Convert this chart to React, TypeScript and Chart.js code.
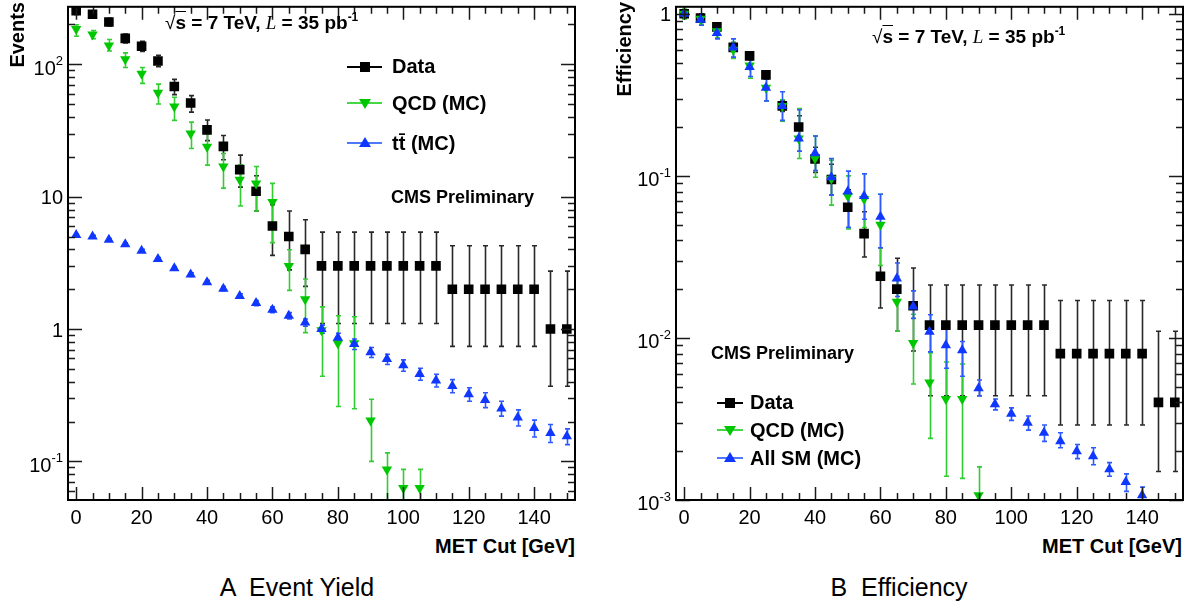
import React, { useEffect, useRef } from 'react';
import { Chart, registerables } from 'chart.js';

Chart.register(...registerables);

// ---------- data ----------
const metCut = [0, 5, 10, 15, 20, 25, 30, 35, 40, 45, 50, 55, 60, 65, 70, 75, 80, 85, 90, 95, 100, 105, 110, 115, 120, 125, 130, 135, 140, 145, 150];
const xMajorTicks = [0, 20, 40, 60, 80, 100, 120, 140];

// Panel A: event yield
const yieldData = [254, 239, 209, 157, 137, 106, 68, 51, 32, 24, 16, 11, 6, 5, 4, 3, 3, 3, 3, 3, 3, 3, 3, 2, 2, 2, 2, 2, 2, 1, 1];
const yieldDataLo = [238, 224, 195, 145, 125, 96, 59, 43.5, 26.5, 19, 11.8, 7.8, 3.6, 2.8, 2.1, 1.1, 1.1, 1.1, 1.1, 1.1, 1.1, 1.1, 1.1, 0.74, 0.74, 0.74, 0.74, 0.74, 0.74, 0.37, 0.37];
const yieldDataHi = [270, 254, 223, 169, 149, 117, 77, 58, 38, 29, 20.6, 14.4, 8.7, 7.8, 6.7, 5.4, 5.4, 5.4, 5.4, 5.4, 5.4, 5.4, 5.4, 4.26, 4.26, 4.26, 4.26, 4.26, 4.26, 2.74, 2.74];

const yieldQcd = [185, 168, 139, 109, 85, 61, 48, 30, 23.8, 16.9, 13.4, 12.6, 9.1, 3.0, 1.68, 0.98, 0.78, 0.78, 0.204, 0.087, 0.063, 0.063, null, null, null, null, null, null, null, null, null];
const yieldQcdLo = [163, 156, 126, 94.5, 71.8, 50.2, 37.7, 23.1, 17.3, 11.6, 8.5, 7.8, 4.5, 1.96, 0.94, 0.44, 0.26, 0.25, 0.10, 0.03, 0.03, 0.03, null, null, null, null, null, null, null, null, null];
const yieldQcdHi = [199, 180, 154, 122, 94.5, 70.8, 56.4, 36.6, 29.9, 21.2, 17.3, 16.9, 12.6, 3.97, 2.39, 1.47, 1.26, 1.24, 0.295, 0.116, 0.087, 0.087, null, null, null, null, null, null, null, null, null];

const yieldTt = [5.14, 5.0, 4.72, 4.38, 3.91, 3.38, 2.88, 2.58, 2.26, 2.02, 1.78, 1.57, 1.40, 1.26, 1.12, 1.0, 0.86, 0.77, 0.667, 0.593, 0.532, 0.458, 0.409, 0.371, 0.321, 0.291, 0.251, 0.215, 0.179, 0.164, 0.155];
const yieldTtLo = [5.05, 4.9, 4.62, 4.28, 3.81, 3.29, 2.8, 2.5, 2.19, 1.95, 1.71, 1.5, 1.33, 1.19, 1.05, 0.93, 0.79, 0.70, 0.61, 0.54, 0.48, 0.41, 0.365, 0.33, 0.285, 0.255, 0.22, 0.185, 0.153, 0.139, 0.134];
const yieldTtHi = [5.23, 5.1, 4.82, 4.48, 4.01, 3.47, 2.96, 2.66, 2.33, 2.09, 1.85, 1.64, 1.47, 1.33, 1.19, 1.07, 0.93, 0.84, 0.725, 0.645, 0.585, 0.505, 0.455, 0.415, 0.36, 0.33, 0.285, 0.245, 0.205, 0.19, 0.176];

// Panel B: efficiency
const effData = [1.0, 0.94, 0.83, 0.62, 0.55, 0.42, 0.27, 0.20, 0.127, 0.095, 0.064, 0.044, 0.024, 0.020, 0.0158, 0.012, 0.012, 0.012, 0.012, 0.012, 0.012, 0.012, 0.012, 0.008, 0.008, 0.008, 0.008, 0.008, 0.008, 0.004, 0.004];
const effDataLo = [0.97, 0.91, 0.80, 0.59, 0.52, 0.395, 0.25, 0.175, 0.105, 0.076, 0.048, 0.0316, 0.0153, 0.011, 0.0083, 0.0044, 0.0044, 0.0044, 0.0044, 0.0044, 0.0044, 0.0044, 0.0044, 0.0029, 0.0029, 0.0029, 0.0029, 0.0029, 0.0029, 0.0015, 0.0015];
const effDataHi = [1.03, 0.97, 0.86, 0.65, 0.58, 0.445, 0.29, 0.235, 0.15, 0.118, 0.082, 0.060, 0.036, 0.031, 0.027, 0.0212, 0.0212, 0.0212, 0.0212, 0.0212, 0.0212, 0.0212, 0.0212, 0.017, 0.017, 0.017, 0.017, 0.017, 0.017, 0.011, 0.011];

const effQcd = [1.0, 0.93, 0.78, 0.6, 0.48, 0.35, 0.27, 0.17, 0.128, 0.096, 0.075, 0.072, 0.050, 0.0167, 0.0093, 0.0053, 0.0042, 0.0042, 0.00107, null, null, null, null, null, null, null, null, null, null, null, null];
const effQcdLo = [0.93, 0.86, 0.71, 0.53, 0.40, 0.29, 0.217, 0.128, 0.098, 0.066, 0.047, 0.048, 0.028, 0.011, 0.0052, 0.0024, 0.0014, 0.00136, 0.0005, null, null, null, null, null, null, null, null, null, null, null, null];
const effQcdHi = [1.07, 1.0, 0.85, 0.67, 0.58, 0.40, 0.295, 0.26, 0.176, 0.125, 0.10, 0.103, 0.077, 0.024, 0.014, 0.0081, 0.0071, 0.0069, 0.0016, null, null, null, null, null, null, null, null, null, null, null, null];

const effSm = [1.0, 0.92, 0.76, 0.62, 0.47, 0.35, 0.27, 0.17, 0.138, 0.098, 0.080, 0.075, 0.056, 0.0233, 0.0156, 0.0109, 0.0090, 0.0084, 0.0049, 0.0039, 0.0034, 0.0030, 0.0026, 0.0023, 0.0020, 0.00186, 0.00155, 0.00129, 0.00107, null, null];
const effSmLo = [0.95, 0.85, 0.70, 0.54, 0.41, 0.29, 0.22, 0.142, 0.108, 0.076, 0.048, 0.054, 0.036, 0.018, 0.0132, 0.0082, 0.0065, 0.0058, 0.0044, 0.0036, 0.0031, 0.0027, 0.0023, 0.0021, 0.0018, 0.00165, 0.0014, 0.00113, 0.00095, null, null];
const effSmHi = [1.05, 1.0, 0.87, 0.70, 0.54, 0.41, 0.33, 0.256, 0.176, 0.128, 0.107, 0.103, 0.077, 0.029, 0.0195, 0.0139, 0.012, 0.0095, 0.0055, 0.0042, 0.0037, 0.0033, 0.0029, 0.0026, 0.0022, 0.0021, 0.0017, 0.00145, 0.0012, null, null];

// ---------- styling ----------
const FONT = '"Liberation Sans", Arial, Helvetica, sans-serif';
const BLACK = '#000000';
const GREEN = 'rgb(0,200,0)';
const BLUE = 'rgb(15,55,255)';
const ERR_BLACK = 'rgb(40,40,40)';
const ERR_GREEN = 'rgb(50,205,50)';
const ERR_BLUE = 'rgb(45,90,255)';

type Num = number | null;
type SeriesCfg = {
  label: string;
  values: Num[];
  lo: Num[];
  hi: Num[];
  color: string;
  errColor: string;
  shape: 'rect' | 'triangle';
  rotation: number;
  radius: number;
  order: number;
};

function decadesIn(min: number, max: number): number[] {
  const out: number[] = [];
  for (let e = Math.ceil(Math.log10(min) - 1e-9); e <= Math.floor(Math.log10(max) + 1e-9); e++) out.push(e);
  return out;
}

function drawLogLabel(ctx: CanvasRenderingContext2D, exp: number, right: number, yc: number) {
  const base = exp === 0 ? '1' : '10';
  const sup = exp === 0 || exp === 1 ? '' : String(exp);
  ctx.fillStyle = '#000';
  ctx.textAlign = 'left';
  ctx.textBaseline = 'alphabetic';
  ctx.font = `20px ${FONT}`;
  const wb = ctx.measureText(base).width;
  ctx.font = `13px ${FONT}`;
  const ws = sup ? ctx.measureText(sup).width : 0;
  const x0 = right - wb - ws;
  ctx.font = `20px ${FONT}`;
  if (sup) {
    ctx.fillText(base, x0, yc + 10.2);
    ctx.font = `13px ${FONT}`;
    ctx.fillText(sup, x0 + wb, yc + 1);
  } else {
    ctx.fillText(base, x0, yc + 7.6);
  }
}

function buildChart(
  canvas: HTMLCanvasElement,
  series: SeriesCfg[],
  yMin: number,
  yMax: number,
  yAxisWidth: number,
  padRight: number
) {
  const plugin = {
    id: 'rootStyle',
    beforeDatasetsDraw(chart: any) {
      const { ctx, chartArea: a } = chart;
      const x = chart.scales.x;
      const y = chart.scales.y;
      ctx.save();
      ctx.beginPath();
      ctx.rect(a.left, a.top, a.right - a.left, a.bottom - a.top);
      ctx.clip();
      ctx.lineWidth = 1.6;
      series.forEach((s) => {
        ctx.strokeStyle = s.errColor;
        metCut.forEach((m, i) => {
          const v = s.values[i];
          const lo = s.lo[i];
          const hi = s.hi[i];
          if (v == null || lo == null || hi == null) return;
          const px = Math.round(x.getPixelForValue(m)) + 0.5;
          const y1 = y.getPixelForValue(hi);
          const y2 = y.getPixelForValue(lo);
          ctx.beginPath();
          ctx.moveTo(px, y1);
          ctx.lineTo(px, y2);
          ctx.moveTo(px - 2.5, y1);
          ctx.lineTo(px + 2.5, y1);
          ctx.moveTo(px - 2.5, y2);
          ctx.lineTo(px + 2.5, y2);
          ctx.stroke();
        });
      });
      ctx.restore();
    },
    afterDatasetsDraw(chart: any) {
      const { ctx, chartArea: a } = chart;
      const x = chart.scales.x;
      const y = chart.scales.y;
      ctx.save();
      // ticks
      ctx.strokeStyle = '#1a1a1a';
      ctx.lineWidth = 1.5;
      ctx.beginPath();
      for (let v = 0; v <= 150; v += 5) {
        const px = Math.round(x.getPixelForValue(v)) + 0.5;
        const len = v % 20 === 0 ? 13 : 7;
        ctx.moveTo(px, a.bottom);
        ctx.lineTo(px, a.bottom - len);
        ctx.moveTo(px, a.top);
        ctx.lineTo(px, a.top + len);
      }
      const e0 = Math.floor(Math.log10(yMin));
      const e1 = Math.ceil(Math.log10(yMax));
      for (let e = e0; e <= e1; e++) {
        for (let k = 1; k <= 9; k++) {
          const v = k * Math.pow(10, e);
          if (v < yMin || v > yMax) continue;
          const py = Math.round(y.getPixelForValue(v)) + 0.5;
          const len = k === 1 ? 14 : 7;
          ctx.moveTo(a.left, py);
          ctx.lineTo(a.left + len, py);
          ctx.moveTo(a.right, py);
          ctx.lineTo(a.right - len, py);
        }
      }
      ctx.stroke();
      // frame
      ctx.strokeStyle = '#000';
      ctx.lineWidth = 2;
      ctx.strokeRect(a.left, a.top, a.right - a.left, a.bottom - a.top);
      // y labels
      decadesIn(yMin, yMax).forEach((e) => {
        drawLogLabel(ctx, e, a.left - 5, y.getPixelForValue(Math.pow(10, e)));
      });
      ctx.restore();
    },
  };

  return new Chart(canvas, {
    type: 'scatter',
    data: {
      datasets: series.map((s) => ({
        label: s.label,
        data: metCut.map((m, i) => ({ x: m, y: s.values[i] as any })),
        showLine: false,
        pointStyle: s.shape,
        pointRotation: s.rotation,
        pointRadius: s.radius,
        pointHoverRadius: s.radius,
        pointBackgroundColor: s.color,
        pointBorderColor: s.color,
        pointBorderWidth: 0,
        order: s.order,
      })),
    },
    options: {
      responsive: false,
      animation: false,
      devicePixelRatio: 1,
      events: [],
      layout: { padding: { top: 2, right: padRight, left: 0, bottom: 0 } },
      plugins: { legend: { display: false }, tooltip: { enabled: false } },
      scales: {
        x: {
          type: 'linear',
          min: -2.5,
          max: 152.5,
          grid: { display: false, drawTicks: false },
          border: { display: false },
          ticks: {
            font: { family: FONT, size: 20 },
            color: '#000',
            padding: 6,
            autoSkip: false,
            maxRotation: 0,
            callback: (v: any) => String(v),
          },
          afterBuildTicks: (sc: any) => {
            sc.ticks = xMajorTicks.map((v) => ({ value: v }));
          },
          afterFit: (sc: any) => {
            sc.height = 30;
          },
        },
        y: {
          type: 'logarithmic',
          min: yMin,
          max: yMax,
          grid: { display: false, drawTicks: false },
          border: { display: false },
          ticks: { display: false },
          afterBuildTicks: (sc: any) => {
            sc.ticks = decadesIn(yMin, yMax).map((e) => ({ value: Math.pow(10, e) }));
          },
          afterFit: (sc: any) => {
            sc.width = yAxisWidth;
          },
        },
      },
    } as any,
    plugins: [plugin],
  });
}

// ---------- HTML helpers ----------
const abs = (s: React.CSSProperties): React.CSSProperties => ({ position: 'absolute', whiteSpace: 'pre', ...s });

function Marker({ shape, color, cx, cy }: { shape: 'square' | 'up' | 'down'; color: string; cx: number; cy: number }) {
  if (shape === 'square') {
    return <div style={abs({ left: cx - 5, top: cy - 5, width: 10, height: 10, background: color })} />;
  }
  if (shape === 'up') {
    return (
      <div
        style={abs({
          left: cx - 6,
          top: cy - 6,
          width: 0,
          height: 0,
          borderLeft: '6px solid transparent',
          borderRight: '6px solid transparent',
          borderBottom: `10px solid ${color}`,
        })}
      />
    );
  }
  return (
    <div
      style={abs({
        left: cx - 6,
        top: cy - 4,
        width: 0,
        height: 0,
        borderLeft: '6px solid transparent',
        borderRight: '6px solid transparent',
        borderTop: `10px solid ${color}`,
      })}
    />
  );
}

function LegendRow(props: {
  x1: number;
  x2: number;
  cy: number;
  lineColor: string;
  markColor: string;
  shape: 'square' | 'up' | 'down';
  textLeft: number;
  children: React.ReactNode;
}) {
  const { x1, x2, cy, lineColor, markColor, shape, textLeft, children } = props;
  return (
    <>
      <div style={abs({ left: x1, top: cy - 1, width: x2 - x1, height: 2, background: lineColor })} />
      <Marker shape={shape} color={markColor} cx={(x1 + x2) / 2} cy={cy} />
      <div style={abs({ left: textLeft, top: cy - 10.5, fontSize: 20, lineHeight: '20px', fontWeight: 700 })}>{children}</div>
    </>
  );
}

function EnergyLabel({ left, top }: { left: number; top: number }) {
  return (
    <div style={abs({ left, top, fontSize: 19, lineHeight: '19px', fontWeight: 700 })}>
      <span style={{ fontWeight: 400 }}>√</span>
      <span style={{ textDecoration: 'overline' }}>s</span>
      {' = 7 TeV, '}
      <span style={{ fontFamily: '"Liberation Serif", "Times New Roman", serif', fontStyle: 'italic', fontWeight: 400 }}>L</span>
      {' = 35 pb'}
      <span style={{ fontSize: 12, position: 'relative', top: -8 }}>-1</span>
    </div>
  );
}

function RotTitle({ left, text }: { left: number; text: string }) {
  return (
    <div
      style={abs({
        left,
        top: 202,
        width: 200,
        height: 20,
        fontSize: 20,
        lineHeight: '20px',
        fontWeight: 700,
        textAlign: 'right',
        transformOrigin: '0 0',
        transform: 'rotate(-90deg)',
      })}
    >
      {text}
    </div>
  );
}

export default function App() {
  const leftRef = useRef<HTMLCanvasElement | null>(null);
  const rightRef = useRef<HTMLCanvasElement | null>(null);

  useEffect(() => {
    const seriesA: SeriesCfg[] = [
      { label: 'Data', values: yieldData, lo: yieldDataLo, hi: yieldDataHi, color: BLACK, errColor: ERR_BLACK, shape: 'rect', rotation: 0, radius: 6.8, order: 3 },
      { label: 'QCD (MC)', values: yieldQcd, lo: yieldQcdLo, hi: yieldQcdHi, color: GREEN, errColor: ERR_GREEN, shape: 'triangle', rotation: 180, radius: 6, order: 2 },
      { label: 'tt̄ (MC)', values: yieldTt, lo: yieldTtLo, hi: yieldTtHi, color: BLUE, errColor: ERR_BLUE, shape: 'triangle', rotation: 0, radius: 6, order: 1 },
    ];
    const seriesB: SeriesCfg[] = [
      { label: 'Data', values: effData, lo: effDataLo, hi: effDataHi, color: BLACK, errColor: ERR_BLACK, shape: 'rect', rotation: 0, radius: 6.8, order: 3 },
      { label: 'QCD (MC)', values: effQcd, lo: effQcdLo, hi: effQcdHi, color: GREEN, errColor: ERR_GREEN, shape: 'triangle', rotation: 180, radius: 6, order: 2 },
      { label: 'All SM (MC)', values: effSm, lo: effSmLo, hi: effSmHi, color: BLUE, errColor: ERR_BLUE, shape: 'triangle', rotation: 0, radius: 6, order: 1 },
    ];
    const c1 = buildChart(leftRef.current!, seriesA, 0.0511, 272, 68, 21);
    const c2 = buildChart(rightRef.current!, seriesB, 0.001, 1.104, 76, 10);
    return () => {
      c1.destroy();
      c2.destroy();
    };
  }, []);

  return (
    <div style={{ position: 'fixed', left: 0, top: 0, width: 1193, height: 609, background: '#fff', fontFamily: FONT, color: '#000', overflow: 'hidden' }}>
      <canvas ref={leftRef} width={596} height={530} style={{ position: 'absolute', left: 0, top: 0 }} />
      <canvas ref={rightRef} width={593} height={530} style={{ position: 'absolute', left: 600, top: 0 }} />

      {/* Panel A annotations */}
      <RotTitle left={7.4} text="Events" />
      <EnergyLabel left={165} top={13} />
      <LegendRow x1={347} x2={382} cy={66.7} lineColor="#000" markColor={BLACK} shape="square" textLeft={392}>Data</LegendRow>
      <LegendRow x1={347} x2={382} cy={103.3} lineColor="rgb(70,215,70)" markColor={GREEN} shape="down" textLeft={392}>QCD (MC)</LegendRow>
      <LegendRow x1={347} x2={382} cy={143.3} lineColor="rgb(80,120,255)" markColor={BLUE} shape="up" textLeft={392}>tt̄ (MC)</LegendRow>
      <div style={abs({ left: 391, top: 188, fontSize: 18, lineHeight: '18px', fontWeight: 700 })}>CMS Preliminary</div>
      <div style={abs({ left: 375, top: 536, width: 200, textAlign: 'right', fontSize: 20, lineHeight: '20px', fontWeight: 700 })}>MET Cut [GeV]</div>
      <div style={abs({ left: 97, top: 575, width: 400, textAlign: 'center', fontSize: 25, lineHeight: '25px' })}>A  Event Yield</div>

      {/* Panel B annotations */}
      <RotTitle left={614.4} text="Efficiency" />
      <EnergyLabel left={872} top={26.5} />
      <div style={abs({ left: 711, top: 344, fontSize: 18, lineHeight: '18px', fontWeight: 700 })}>CMS Preliminary</div>
      <LegendRow x1={717} x2={743} cy={402.5} lineColor="#000" markColor={BLACK} shape="square" textLeft={750}>Data</LegendRow>
      <LegendRow x1={717} x2={743} cy={430} lineColor="rgb(70,215,70)" markColor={GREEN} shape="down" textLeft={750}>QCD (MC)</LegendRow>
      <LegendRow x1={717} x2={743} cy={458} lineColor="rgb(80,120,255)" markColor={BLUE} shape="up" textLeft={750}>All SM (MC)</LegendRow>
      <div style={abs({ left: 982, top: 536, width: 200, textAlign: 'right', fontSize: 20, lineHeight: '20px', fontWeight: 700 })}>MET Cut [GeV]</div>
      <div style={abs({ left: 699, top: 575, width: 400, textAlign: 'center', fontSize: 25, lineHeight: '25px' })}>B  Efficiency</div>
    </div>
  );
}
